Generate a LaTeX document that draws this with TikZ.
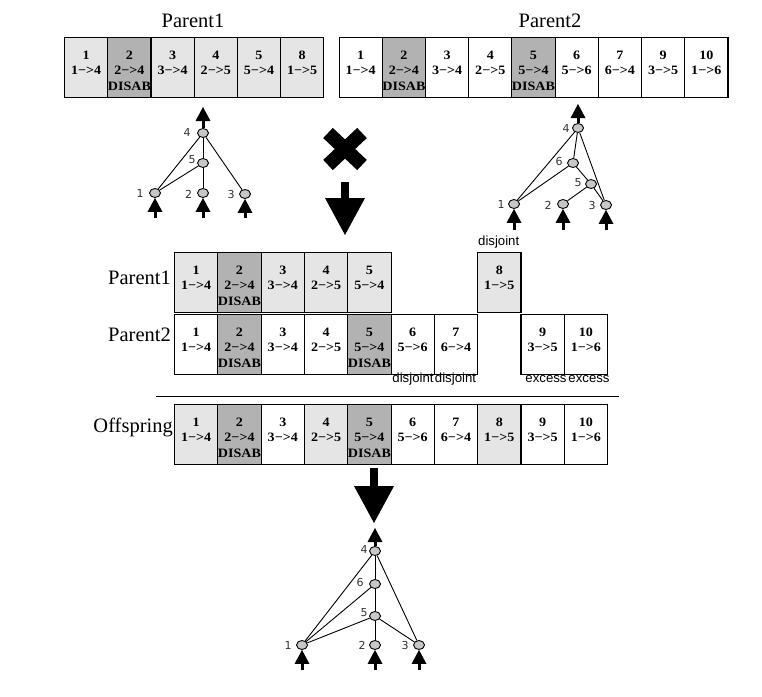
\documentclass[tikz,border=0pt]{standalone}
\usepackage{fontspec}
\setmainfont{Liberation Serif}
\newfontfamily\cellfont[FakeStretch=1.1]{Liberation Serif}
\newfontfamily\lsans{Liberation Sans}
\newfontfamily\dsans{DejaVu Sans}
\usetikzlibrary{shapes.geometric,arrows.meta}
\definecolor{lg}{gray}{0.9}
\definecolor{dg}{gray}{0.7}
\definecolor{wh}{gray}{1}
\definecolor{nodefill}{gray}{0.78}
\definecolor{lblcol}{gray}{0.2}
\newcommand\gcell[7]{\node[gene,fill=#2] (#1) at (#3,#4) {\rule{0pt}{15pt}#5\\#6\\#7\vphantom{D}};}
\begin{document}
\begin{tikzpicture}[x=1pt,y=-1pt,
  gene/.style={draw,line width=1.1pt,anchor=north west,minimum width=43.3pt,minimum height=59.5pt,inner sep=0pt,align=center,font=\cellfont\bfseries\fontsize{12.8}{15.5}\selectfont},
  title/.style={font=\fontsize{20.5}{22}\selectfont,inner sep=0pt},
  note/.style={font=\lsans\fontsize{13.2}{14}\selectfont,inner sep=0pt,anchor=base},
  nn/.style={ellipse,draw,line width=0.9pt,fill=nodefill,minimum width=11pt,minimum height=9pt,inner sep=0pt},
  lbl/.style={font=\dsans\fontsize{11}{13}\selectfont,text=lblcol,inner sep=0pt},
  edge/.style={line width=0.9pt},
  ioarr/.style={line width=3pt,-{Triangle[width=15pt,length=14pt,line width=0pt]}},
  bigarr/.style={line width=8pt,-{Triangle[width=40pt,length=37pt,line width=0pt]}},
  cross/.style={line width=14pt}]
\useasboundingbox (0,0) rectangle (762,696);

% ---------- top titles ----------
\node[title] (t1) at (193,21) {Parent1};
\node[title] (t2) at (550,21) {Parent2};

% ---------- top Parent1 genome ----------
\gcell{pa1}{lg}{64}{37}{1}{1−>4}{}
\gcell{pa2}{dg}{107.2}{37}{2}{2−>4}{DISAB}
\gcell{pa3}{lg}{150.4}{37}{3}{3−>4}{}
\gcell{pa4}{lg}{193.6}{37}{4}{2−>5}{}
\gcell{pa5}{lg}{236.8}{37}{5}{5−>4}{}
\gcell{pa8}{lg}{280}{37}{8}{1−>5}{}

% ---------- top Parent2 genome ----------
\gcell{pb1}{wh}{338.5}{37}{1}{1−>4}{}
\gcell{pb2}{dg}{381.7}{37}{2}{2−>4}{DISAB}
\gcell{pb3}{wh}{424.9}{37}{3}{3−>4}{}
\gcell{pb4}{wh}{468.1}{37}{4}{2−>5}{}
\gcell{pb5}{dg}{511.3}{37}{5}{5−>4}{DISAB}
\gcell{pb6}{wh}{554.5}{37}{6}{5−>6}{}
\gcell{pb7}{wh}{597.7}{37}{7}{6−>4}{}
\gcell{pb9}{wh}{640.9}{37}{9}{3−>5}{}
\gcell{pb10}{wh}{684.1}{37}{10}{1−>6}{}

% ---------- top-left network ----------
\node[nn] (a4) at (203,133) {};
\node[nn] (a5) at (203,163) {};
\node[nn] (a1) at (155,193) {};
\node[nn] (a2) at (203,193) {};
\node[nn] (a3) at (245,194) {};
\node[lbl] (la4) at (187,132) {4};
\node[lbl] (la5) at (192,160) {5};
\node[lbl] (la1) at (140,193) {1};
\node[lbl] (la2) at (188.5,194) {2};
\node[lbl] (la3) at (231,194) {3};
\draw[edge] (a4) -- (a1);
\draw[edge] (a4) -- (a5);
\draw[edge] (a4) -- (a3);
\draw[edge] (a5) -- (a1);
\draw[edge] (a5) -- (a2);
\coordinate (aout) at (203,107);
\coordinate (ain1) at (155,218);
\coordinate (ain2) at (203,218);
\coordinate (ain3) at (245,218);
\draw[ioarr] (a4) -- (aout);
\draw[ioarr] (ain1) -- (a1);
\draw[ioarr] (ain2) -- (a2);
\draw[ioarr] (ain3) -- (a3);

% ---------- top-right network ----------
\node[nn] (b4) at (578,128) {};
\node[nn] (b6) at (573,163) {};
\node[nn] (b5) at (591,184) {};
\node[nn] (b1) at (514,204) {};
\node[nn] (b2) at (563,204) {};
\node[nn] (b3) at (606,205) {};
\node[lbl] (lb4) at (566,128) {4};
\node[lbl] (lb6) at (559,161) {6};
\node[lbl] (lb5) at (578,183) {5};
\node[lbl] (lb1) at (501,204) {1};
\node[lbl] (lb2) at (548,205) {2};
\node[lbl] (lb3) at (592,205) {3};
\draw[edge] (b4) -- (b1);
\draw[edge] (b4) -- (b6);
\draw[edge] (b4) -- (b3);
\draw[edge] (b6) -- (b1);
\draw[edge] (b6) -- (b5);
\draw[edge] (b5) -- (b2);
\draw[edge] (b5) -- (b3);
\coordinate (bout) at (578,104);
\coordinate (bin1) at (514,230);
\coordinate (bin2) at (563,230);
\coordinate (bin3) at (606,230);
\draw[ioarr] (b4) -- (bout);
\draw[ioarr] (bin1) -- (b1);
\draw[ioarr] (bin2) -- (b2);
\draw[ioarr] (bin3) -- (b3);

% ---------- cross and arrow ----------
\coordinate (x1) at (328,133);
\coordinate (x2) at (362,165);
\coordinate (x3) at (328,165);
\coordinate (x4) at (362,133);
\draw[cross] (x1) -- (x2);
\draw[cross] (x3) -- (x4);
\coordinate (d1s) at (345,182);
\coordinate (d1e) at (345,235);
\draw[bigarr] (d1s) -- (d1e);

% ---------- aligned genomes ----------
\node[title,anchor=east] (m1) at (171,278) {Parent1};
\node[title,anchor=east] (m2) at (171,335) {Parent2};
\node[title,anchor=east] (m3) at (173,427) {Offspring};

\gcell{qa1}{lg}{174}{252}{1}{1−>4}{}
\gcell{qa2}{dg}{217.3}{252}{2}{2−>4}{DISAB}
\gcell{qa3}{lg}{260.6}{252}{3}{3−>4}{}
\gcell{qa4}{lg}{303.9}{252}{4}{2−>5}{}
\gcell{qa5}{lg}{347.2}{252}{5}{5−>4}{}
\gcell{qa8}{lg}{477.1}{252}{8}{1−>5}{}
\node[note] (n8) at (498.7,245) {disjoint};

\gcell{qb1}{wh}{174}{314}{1}{1−>4}{}
\gcell{qb2}{dg}{217.3}{314}{2}{2−>4}{DISAB}
\gcell{qb3}{wh}{260.6}{314}{3}{3−>4}{}
\gcell{qb4}{wh}{303.9}{314}{4}{2−>5}{}
\gcell{qb5}{dg}{347.2}{314}{5}{5−>4}{DISAB}
\gcell{qb6}{wh}{390.5}{314}{6}{5−>6}{}
\gcell{qb7}{wh}{433.8}{314}{7}{6−>4}{}
\gcell{qb9}{wh}{520.4}{314}{9}{3−>5}{}
\gcell{qb10}{wh}{563.7}{314}{10}{1−>6}{}
\node[note] (n6) at (413,382) {disjoint};
\node[note] (n7) at (455.5,382) {disjoint};
\node[note] (n9) at (546,382) {excess};
\node[note] (n10) at (589,382) {excess};

\coordinate (sepL) at (156,396);
\coordinate (sepR) at (619,396);
\draw[line width=1pt] (sepL) -- (sepR);

\gcell{o1}{lg}{174}{404}{1}{1−>4}{}
\gcell{o2}{dg}{217.3}{404}{2}{2−>4}{DISAB}
\gcell{o3}{wh}{260.6}{404}{3}{3−>4}{}
\gcell{o4}{lg}{303.9}{404}{4}{2−>5}{}
\gcell{o5}{dg}{347.2}{404}{5}{5−>4}{DISAB}
\gcell{o6}{wh}{390.5}{404}{6}{5−>6}{}
\gcell{o7}{wh}{433.8}{404}{7}{6−>4}{}
\gcell{o8}{lg}{477.1}{404}{8}{1−>5}{}
\gcell{o9}{wh}{520.4}{404}{9}{3−>5}{}
\gcell{o10}{wh}{563.7}{404}{10}{1−>6}{}

% ---------- bottom arrow ----------
\coordinate (d2s) at (374,468);
\coordinate (d2e) at (374,523);
\draw[bigarr] (d2s) -- (d2e);

% ---------- bottom network ----------
\node[nn] (c4) at (375,551) {};
\node[nn] (c6) at (375,584) {};
\node[nn] (c5) at (375,616) {};
\node[nn] (c1) at (302,645) {};
\node[nn] (c2) at (375,645) {};
\node[nn] (c3) at (419,645) {};
\node[lbl] (lc4) at (364,549) {4};
\node[lbl] (lc6) at (360,582) {6};
\node[lbl] (lc5) at (364,613) {5};
\node[lbl] (lc1) at (288,645) {1};
\node[lbl] (lc2) at (362,645) {2};
\node[lbl] (lc3) at (405,645) {3};
\draw[edge] (c4) -- (c1);
\draw[edge] (c4) -- (c6);
\draw[edge] (c4) -- (c3);
\draw[edge] (c6) -- (c1);
\draw[edge] (c6) -- (c5);
\draw[edge] (c5) -- (c1);
\draw[edge] (c5) -- (c2);
\draw[edge] (c5) -- (c3);
\coordinate (cout) at (375,528);
\coordinate (cin1) at (302,670);
\coordinate (cin2) at (375,670);
\coordinate (cin3) at (419,670);
\draw[ioarr] (c4) -- (cout);
\draw[ioarr] (cin1) -- (c1);
\draw[ioarr] (cin2) -- (c2);
\draw[ioarr] (cin3) -- (c3);
\end{tikzpicture}
\end{document}
